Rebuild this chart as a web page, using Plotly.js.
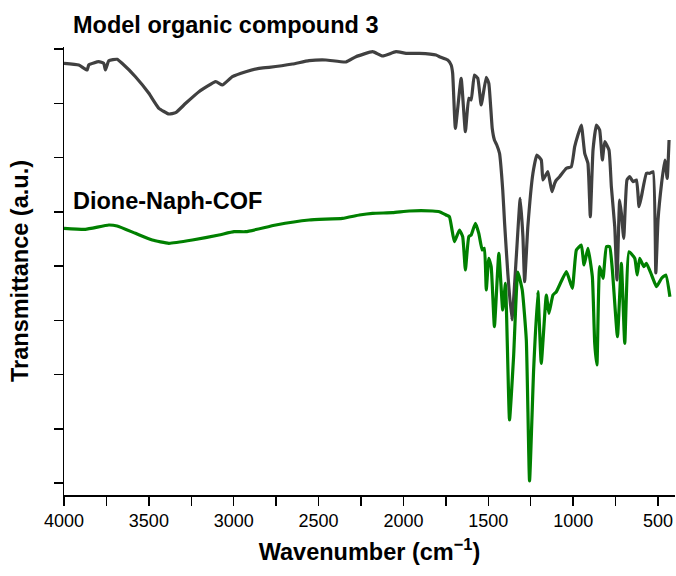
<!DOCTYPE html>
<html>
<head>
<meta charset="utf-8">
<script src="https://cdn.plot.ly/plotly-3.0.1.min.js"></script>
<style>html,body{margin:0;padding:0;background:#fff;}#chart{width:676px;height:576px;}</style>
</head>
<body>
<div id="chart"></div>
<script>
// Model organic compound 3 (wavenumber cm-1, transmittance a.u.)
var modelWavenumber = [4000,3913,3864,3854,3795,3766,3756,3736,3687,3658,3579,3500,3441,3382,3342,3283,3205,3106,3067,3008,2929,2851,2792,2654,2556,2457,2339,2280,2182,2123,2044,1985,1906,1808,1788,1739,1719,1710,1694,1660,1635,1615,1601,1582,1562,1542,1512,1497,1477,1464,1450,1434,1415,1404,1385,1361,1335,1312,1296,1286,1267,1237,1214,1188,1178,1149,1125,1109,1099,1080,1040,1011,991,972,952,932,913,899,883,863,844,828,814,789,775,755,742,726,716,702,683,667,647,627,612,598,568,548,529,513,500,479,460,446,435];
var modelTransmittance = [431.7,430,425,430,433.3,431.7,425,434.3,435.7,431.7,418.3,401.7,386.7,381,382.3,391.7,403.3,413.3,410,418.3,423.3,426.7,427.7,431,434.3,435,433,438.3,443.3,439,443.3,441.7,441.7,440,438.3,435,430,421.7,366.7,416.7,363.3,396.7,395,420,416.7,390,417.7,411.7,366.7,355,350,341.7,305,271.7,221.7,175,238.3,296.7,258.3,213.3,268.3,321.7,340,335,315,323.3,303.3,311.7,315,318.3,326.7,328.3,348.3,360,370,341.7,331.7,278.3,345,370,365,335,353.3,345,308.3,268.3,215,295,281.7,256.7,315,318.3,313.3,315,288.3,298.3,321.7,321.7,323.3,222,275,311.7,335,316.7,355];

// Dione-Naph-COF
var cofWavenumber = [4000,3874,3736,3687,3579,3480,3382,3244,3087,2998,2929,2752,2556,2359,2260,2182,2064,1965,1828,1788,1749,1729,1700,1670,1651,1635,1615,1601,1576,1556,1536,1523,1512,1497,1483,1464,1438,1415,1399,1375,1351,1326,1300,1276,1257,1233,1208,1188,1158,1143,1119,1099,1040,1005,981,952,936,913,887,873,860,844,824,804,785,769,739,716,696,671,637,623,608,584,568,538,509,479,454,430];
var cofTransmittance = [266.7,265.7,270,269,261.7,255,251.7,255,260,263.3,263.3,270,275,276.7,280,281.7,282.3,284,284,283.3,280,278.3,253.3,265,258.3,225,258.3,260,271.7,261.7,245,246.7,205,236.7,228.3,168.3,241.7,185,211.7,75,138.3,223,205,155,14,125,203.3,131.7,200,181.7,200,203.3,223.3,206.7,245,250,230,246.7,218.3,151.7,130,228.3,216.7,248.3,248.3,225,158.3,231.7,151.7,243.3,236.7,220,236.7,228.3,231.7,220,208.3,216.7,220,198.3];

var seriesNames = ['Model organic compound 3', 'Dione-Naph-COF'];
var xTickValues = [4000,3500,3000,2500,2000,1500,1000,500];

var FONT = 'Liberation Sans, Arial, sans-serif';

var traces = [
  {x: modelWavenumber, y: modelTransmittance, name: seriesNames[0], mode: 'lines',
   line: {color: '#404040', width: 3.2, shape: 'spline', smoothing: 0.4}},
  {x: cofWavenumber, y: cofTransmittance, name: seriesNames[1], mode: 'lines',
   line: {color: '#008000', width: 3.2, shape: 'spline', smoothing: 0.4}}
];

var layout = {
  width: 676, height: 576,
  margin: {l: 64, r: 1, t: 47, b: 81, pad: 0},
  paper_bgcolor: '#ffffff', plot_bgcolor: '#ffffff',
  showlegend: false,
  font: {family: FONT, color: '#000'},
  xaxis: {
    range: [4000, 400], autorange: false,
    tickvals: xTickValues, ticktext: xTickValues.map(String),
    ticks: 'outside', ticklen: 9, tickwidth: 1.5, tickcolor: '#000',
    minor: {dtick: 250, tick0: 0, ticks: 'outside', ticklen: 9, tickwidth: 1.5, tickcolor: '#000'},
    showline: true, linecolor: '#000', linewidth: 1.5,
    showgrid: false, zeroline: false,
    tickfont: {size: 18, family: FONT},
    title: {text: 'Wavenumber (cm<sup>\u22121</sup>)', font: {size: 23.5, family: FONT, weight: 'bold'}, standoff: 13}
  },
  yaxis: {
    range: [0, 448], autorange: false,
    tick0: 12, dtick: 54.25,
    ticks: 'outside', ticklen: 9, tickwidth: 1.5, tickcolor: '#000',
    showticklabels: false,
    showline: true, linecolor: '#000', linewidth: 1.5,
    showgrid: false, zeroline: false,
    title: {text: 'Transmittance (a.u.)', font: {size: 23.5, family: FONT, weight: 'bold'}, standoff: 18}
  },
  annotations: [
    {text: '<b>' + seriesNames[0] + '</b>', xref: 'paper', yref: 'paper', x: 0.012, y: 1.049,
     xanchor: 'left', yanchor: 'middle', showarrow: false, font: {size: 23.5, color: '#000', family: FONT}},
    {text: '<b>' + seriesNames[1] + '</b>', xref: 'paper', yref: 'paper', x: 0.012, y: 0.656,
     xanchor: 'left', yanchor: 'middle', showarrow: false, font: {size: 23.5, color: '#000', family: FONT}}
  ]
};

Plotly.newPlot('chart', traces, layout, {displayModeBar: false, staticPlot: true});
</script>
</body>
</html>
